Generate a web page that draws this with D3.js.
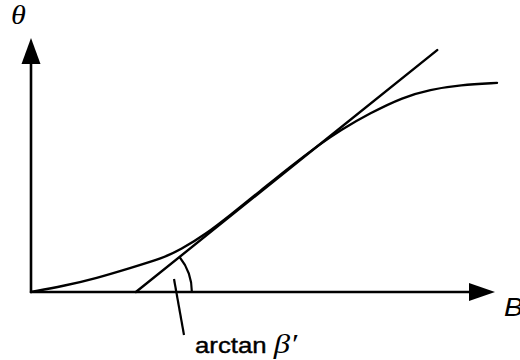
<!DOCTYPE html>
<html>
<head>
<meta charset="utf-8">
<script src="https://cdn.jsdelivr.net/npm/d3@7"></script>
<style>
  html, body { margin: 0; padding: 0; background: #fff; }
  svg { display: block; }
</style>
</head>
<body>
<svg id="chart" width="520" height="360"></svg>
<script>
// Response curve θ(B): slow start, linear middle, saturation at the top
const curveB     = [0, 0.70, 1.43, 2.15, 2.87, 3.24, 3.83, 4.33, 4.98, 5.63, 6.28, 6.72, 7.37, 8.09, 8.67, 9.33, 10.13];
const curveTheta = [0, 0.14, 0.33, 0.57, 0.81, 1.00, 1.40, 1.83, 2.40, 2.98, 3.52, 3.85, 4.26, 4.64, 4.82, 4.93, 4.98];

// Tangent line (slope β') drawn from its B-axis intercept upward
const tangentB     = [2.28, 8.83];
const tangentTheta = [0, 5.76];

const axisLabels = { y: "θ", x: "B" };
const angleLabel = ["arctan ", "β′"];

const svg = d3.select("#chart");

const x = d3.scaleLinear().domain([0, 10]).range([31, 491]);
const y = d3.scaleLinear().domain([0, 6]).range([292, 40]);

const ink = "#000";

// Axes with arrowheads
const x0 = x(0), y0 = y(0);
const yTip = 38, xTip = 495;

svg.append("line")
  .attr("x1", x0).attr("y1", y0 + 1)
  .attr("x2", x0).attr("y2", yTip + 24)
  .attr("stroke", ink).attr("stroke-width", 2.6);
svg.append("path")
  .attr("d", `M${x0},${yTip} L${x0 - 9.5},${yTip + 26} L${x0 + 9.5},${yTip + 26} Z`)
  .attr("fill", ink);

svg.append("line")
  .attr("x1", x0 - 1).attr("y1", y0)
  .attr("x2", xTip - 25).attr("y2", y0)
  .attr("stroke", ink).attr("stroke-width", 2.6);
svg.append("path")
  .attr("d", `M${xTip},${y0} L${xTip - 26},${y0 - 9} L${xTip - 26},${y0 + 9} Z`)
  .attr("fill", ink);

// Response curve (B-spline through the sampled points for a smooth trace)
const pts = curveB.map((b, i) => [b, curveTheta[i]]);
svg.append("path")
  .datum(pts)
  .attr("fill", "none")
  .attr("stroke", ink)
  .attr("stroke-width", 2.4)
  .attr("stroke-linecap", "round")
  .attr("d", d3.line().x(d => x(d[0])).y(d => y(d[1])).curve(d3.curveBasis));

// Tangent
svg.append("line")
  .attr("x1", x(tangentB[0])).attr("y1", y(tangentTheta[0]))
  .attr("x2", x(tangentB[1])).attr("y2", y(tangentTheta[1]))
  .attr("stroke", ink).attr("stroke-width", 2.4)
  .attr("stroke-linecap", "round");

// Angle arc between B axis and tangent
const cx = x(tangentB[0]), cy = y(tangentTheta[0]);
const ang = Math.atan2(y(tangentTheta[0]) - y(tangentTheta[1]), x(tangentB[1]) - x(tangentB[0]));
const r = 56;
const arcPath = d3.path();
arcPath.arc(cx, cy, r, -ang, 0);
svg.append("path")
  .attr("d", arcPath.toString())
  .attr("fill", "none")
  .attr("stroke", ink)
  .attr("stroke-width", 2.2);

// Leader line to the angle label
svg.append("line")
  .attr("x1", 174).attr("y1", 279)
  .attr("x2", 184).attr("y2", 335)
  .attr("stroke", ink).attr("stroke-width", 2.2);

// Labels
svg.append("text")
  .attr("transform", "translate(11,24) scale(1.12,1)")
  .attr("font-family", "Liberation Serif, Times New Roman, serif")
  .attr("font-style", "italic")
  .attr("font-size", 27)
  .attr("fill", ink)
  .text(axisLabels.y);

svg.append("text")
  .attr("transform", "translate(504,316) scale(1.1,1)")
  .attr("font-family", "Liberation Sans, Arial, sans-serif")
  .attr("font-style", "italic")
  .attr("font-size", 26)
  .attr("fill", ink)
  .text(axisLabels.x);

const lab = svg.append("text")
  .attr("transform", "translate(195,353) scale(1.17,1)")
  .attr("font-family", "Liberation Sans, Arial, sans-serif")
  .attr("font-size", 22)
  .attr("fill", ink)
  .attr("stroke", ink)
  .attr("stroke-width", 0.4);
lab.append("tspan").text(angleLabel[0]);
lab.append("tspan")
  .attr("font-family", "Liberation Serif, Times New Roman, serif")
  .attr("font-style", "italic")
  .attr("font-size", 28)
  .attr("stroke-width", 0)
  .text(angleLabel[1]);
</script>
</body>
</html>
